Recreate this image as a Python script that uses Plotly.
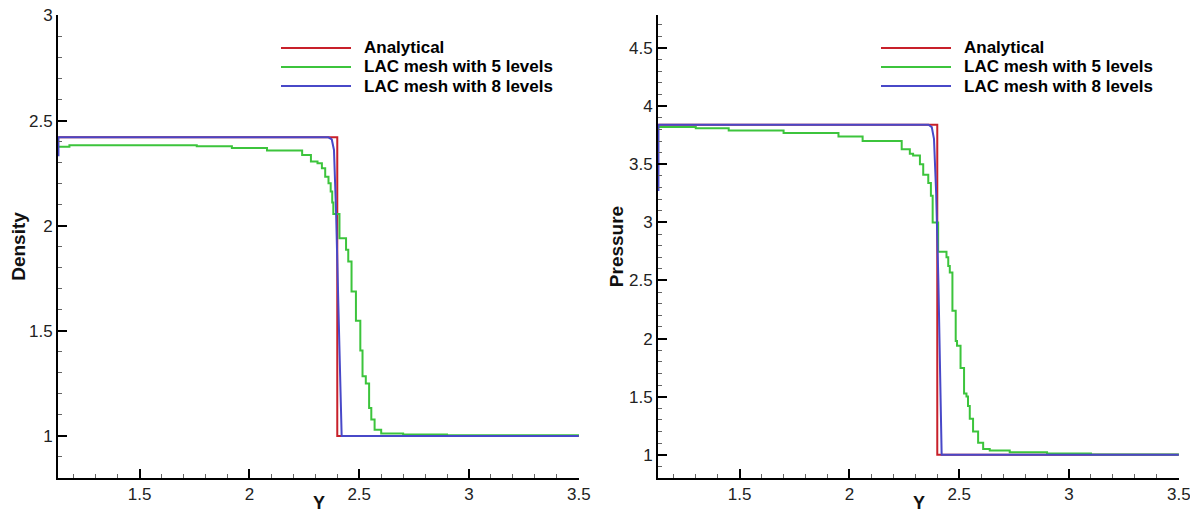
import plotly.graph_objects as go
from plotly.subplots import make_subplots

# analytical solution (sharp shock)
ana_x = [1.13, 2.40, 3.50]
ana_rho = [2.42, 1.0, 1.0]
ana_p = [3.84, 1.0, 1.0]

# LAC mesh with 5 levels (stair-stepped)
lac5_rho_x = [1.13, 1.18, 1.76, 1.92, 2.08, 2.24, 2.28, 2.31, 2.33, 2.345,
              2.36, 2.37, 2.377, 2.382, 2.41, 2.44, 2.45, 2.465, 2.485, 2.505,
              2.515, 2.53, 2.545, 2.555, 2.57, 2.6, 2.7, 2.9, 3.5]
lac5_rho = [2.375, 2.383, 2.378, 2.370, 2.358, 2.336, 2.305, 2.297, 2.273, 2.233,
            2.202, 2.162, 2.11, 2.055, 1.94, 1.885, 1.83, 1.687, 1.548, 1.406,
            1.284, 1.25, 1.133, 1.078, 1.03, 1.012, 1.007, 1.003, 1.0]

lac5_p_x = [1.13, 1.30, 1.45, 1.70, 1.95, 2.06, 2.238, 2.275, 2.29, 2.321,
            2.336, 2.359, 2.371, 2.379, 2.404, 2.442, 2.45, 2.457, 2.469, 2.484,
            2.49, 2.506, 2.522, 2.533, 2.54, 2.548, 2.563, 2.586, 2.609, 2.639,
            2.73, 2.9, 3.1, 3.5]
lac5_p = [3.82, 3.81, 3.79, 3.77, 3.74, 3.70, 3.63, 3.59, 3.575, 3.50,
          3.41, 3.34, 3.23, 3.0, 2.747, 2.70, 2.624, 2.569, 2.24, 1.98,
          1.939, 1.747, 1.528, 1.501, 1.419, 1.309, 1.20, 1.104, 1.049, 1.036,
          1.022, 1.01, 1.003, 1.0]

# LAC mesh with 8 levels
lac8_x = [1.13, 1.13, 2.36, 2.375, 2.385, 2.395, 2.405, 2.415, 2.42, 3.5]
lac8_rho = [2.33, 2.42, 2.42, 2.41, 2.36, 2.05, 1.62, 1.12, 1.0, 1.0]
lac8_p = [3.27, 3.84, 3.84, 3.82, 3.72, 3.25, 2.5, 1.5, 1.0, 1.0]

labels = ["Analytical", "LAC mesh with 5 levels", "LAC mesh with 8 levels"]
colors = ["#c8202a", "#3cc43c", "#4848c8"]

# page body keeps its default 8px margin, so the figure is 8px smaller
# and every screen position below is shifted by that offset
OFF = 8
W, H = 1198 - OFF, 513 - OFF


def px(x):
    return (x - OFF) / W


def py(y):
    return 1 - (y - OFF) / H


fig = make_subplots(rows=1, cols=2)

for col, (ana_y, lac5_x, lac5_y, lac8_y) in enumerate(
        [(ana_rho, lac5_rho_x, lac5_rho, lac8_rho),
         (ana_p, lac5_p_x, lac5_p, lac8_p)], start=1):
    fig.add_trace(go.Scatter(x=ana_x, y=ana_y, mode='lines', name=labels[0],
                             line=dict(color=colors[0], width=2, shape='hv'),
                             showlegend=False), row=1, col=col)
    fig.add_trace(go.Scatter(x=lac5_x, y=lac5_y, mode='lines', name=labels[1],
                             line=dict(color=colors[1], width=2, shape='hv'),
                             showlegend=False), row=1, col=col)
    fig.add_trace(go.Scatter(x=lac8_x, y=lac8_y, mode='lines', name=labels[2],
                             line=dict(color=colors[2], width=2),
                             showlegend=False), row=1, col=col)

font_name = "Liberation Sans, Arial, sans-serif"
tick_font = dict(family=font_name, size=17, color="#222")
title_font = dict(family=font_name, size=19, color="#111", weight="bold")
minor = dict(dtick=0.1, ticks='inside', ticklen=4, tickwidth=1, tickcolor='#666')

common_x = dict(range=[1.128, 3.501], tick0=1.0, dtick=0.5, ticks='inside', ticklen=9,
                tickwidth=2, tickcolor='black', showline=True, linewidth=2,
                linecolor='black', showgrid=False, zeroline=False, tickfont=tick_font,
                minor=minor, automargin=False, ticklabeloverflow='allow')
common_y = dict(tick0=1.0, dtick=0.5, ticks='inside', ticklen=9, tickwidth=2,
                tickcolor='black', showline=True, linewidth=2, linecolor='black',
                showgrid=False, zeroline=False, tickfont=tick_font, minor=minor,
                automargin=False, ticklabeloverflow='allow')

fig.update_xaxes(**common_x)
fig.update_xaxes(domain=[px(58), px(579)], row=1, col=1)
fig.update_xaxes(domain=[px(658), px(1179)], row=1, col=2)
fig.update_yaxes(**common_y)
fig.update_yaxes(domain=[py(478), py(15)], range=[0.8, 3.002],
                 title=dict(text='Density', font=title_font, standoff=0), row=1, col=1)
fig.update_yaxes(domain=[py(478), py(15)], range=[0.8, 4.785],
                 title=dict(text='Pressure', font=title_font, standoff=0), row=1, col=2)

shapes = []
annotations = []

# x-axis titles, placed close under the tick labels
for cx in [319, 919]:
    annotations.append(dict(xref='paper', yref='paper', x=px(cx), y=py(503),
                            text='Y', showarrow=False, xanchor='center',
                            yanchor='middle',
                            font=dict(family=font_name, size=18, color="#111",
                                      weight="bold")))

# Tecplot-style legends drawn in each panel
legend_rows = [48, 67, 86]
for left in [281, 881]:
    for label, color, row_y in zip(labels, colors, legend_rows):
        shapes.append(dict(type='line', xref='paper', yref='paper',
                           x0=px(left), x1=px(left + 70), y0=py(row_y), y1=py(row_y),
                           line=dict(color=color, width=2)))
        annotations.append(dict(xref='paper', yref='paper', x=px(left + 81), y=py(row_y),
                                text=label, showarrow=False, xanchor='left',
                                yanchor='middle',
                                font=dict(family=font_name, size=17, color='black',
                                          weight='bold')))

fig.update_layout(width=W, height=H, margin=dict(l=0, r=0, t=0, b=0),
                  plot_bgcolor='white', paper_bgcolor='white',
                  shapes=shapes, annotations=annotations, showlegend=False)

fig.write_html("out.html")
